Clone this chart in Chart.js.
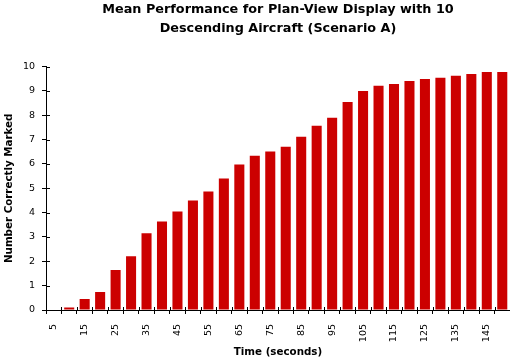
<!DOCTYPE html>
<html>
<head>
<meta charset="utf-8">
<script src="https://cdn.jsdelivr.net/npm/chart.js@4/dist/chart.umd.min.js"></script>
<style>
  html, body { margin: 0; padding: 0; background: #fff; }
  #wrap { width: 510px; height: 361px; }
</style>
</head>
<body>
<div id="wrap"><canvas id="c" width="510" height="361"></canvas></div>
<script>
// ---- Data ----
const titleLines = ['Mean Performance for Plan-View Display with 10', 'Descending Aircraft (Scenario A)'];
const xAxisTitle = 'Time (seconds)';
const yAxisTitle = 'Number Correctly Marked';
const categories = ['5','10','15','20','25','30','35','40','45','50','55','60','65','70','75','80','85','90','95','100','105','110','115','120','125','130','135','140','145','150'];
const meanCorrect = [0, 0.1, 0.45, 0.74, 1.64, 2.21, 3.15, 3.64, 4.05, 4.5, 4.87, 5.4, 5.98, 6.34, 6.51, 6.71, 7.12, 7.57, 7.9, 8.55, 9.0, 9.21, 9.29, 9.41, 9.49, 9.54, 9.62, 9.7, 9.78, 9.78];
const yTicks = [0,1,2,3,4,5,6,7,8,9,10];

const tickFont = { family: 'DejaVu Sans', size: 9.5 };
const boldFont = { family: 'DejaVu Sans', size: 10.3, weight: 'bold' };

// Draw the inner half of the crossing tick marks
const innerTicks = {
  id: 'innerTicks',
  afterDraw(chart) {
    const ctx = chart.ctx;
    const xs = chart.scales.x, ys = chart.scales.y;
    ctx.save();
    ctx.strokeStyle = '#000';
    ctx.lineWidth = 1;
    ctx.beginPath();
    ys.ticks.forEach((t, i) => {
      const y = Math.round(ys.getPixelForTick(i)) + 0.5;
      ctx.moveTo(xs.left, y); ctx.lineTo(xs.left + 4, y);
    });
    const n = categories.length;
    for (let i = 0; i <= n; i++) {
      const x = Math.round(xs.getPixelForValue(i - 0.5)) + 0.5;
      ctx.moveTo(x, ys.bottom); ctx.lineTo(x, ys.bottom - 3);
    }
    ctx.stroke();
    ctx.restore();
  }
};

new Chart(document.getElementById('c'), {
  type: 'bar',
  data: {
    labels: categories,
    datasets: [{
      data: meanCorrect,
      backgroundColor: '#cc0000',
      borderWidth: 0,
      barPercentage: 0.65,
      categoryPercentage: 1.0
    }]
  },
  options: {
    responsive: false,
    animation: false,
    devicePixelRatio: 1,
    layout: { padding: { left: 0, right: 0, top: 0, bottom: 0 } },
    plugins: {
      legend: { display: false },
      tooltip: { enabled: false },
      title: {
        display: true,
        fullSize: false,
        text: titleLines,
        color: '#000',
        font: { family: 'DejaVu Sans', size: 12.8, weight: 'bold', lineHeight: 1.43 },
        padding: { top: 1, bottom: 29 }
      }
    },
    scales: {
      x: {
        offset: true,
        grid: { display: true, drawOnChartArea: false, drawTicks: true, tickLength: 4, color: '#000', offset: true },
        border: { display: true, color: '#000' },
        ticks: {
          color: '#000', font: tickFont, autoSkip: false,
          minRotation: 90, maxRotation: 90, padding: 10,
          callback: (v, i) => (i % 2 === 0 ? categories[i] : '')
        },
        title: { display: true, text: xAxisTitle, color: '#000', font: boldFont, padding: { top: 0, bottom: 2 } },
        afterFit: s => { s.height = 51; s.paddingLeft = 0; s.paddingRight = 0; }
      },
      y: {
        min: 0, max: 10,
        afterBuildTicks: s => { s.ticks = yTicks.map(v => ({ value: v })); },
        grid: { display: true, drawOnChartArea: false, drawTicks: true, tickLength: 4, color: '#000' },
        border: { display: true, color: '#000' },
        ticks: { color: '#000', font: tickFont, padding: 7 },
        title: { display: true, text: yAxisTitle, color: '#000', font: boldFont, padding: { top: 3, bottom: 0 } },
        afterFit: s => { s.width = 46; s.paddingTop = 0; s.paddingBottom = 0; }
      }
    }
  },
  plugins: [innerTicks]
});
</script>
</body>
</html>
